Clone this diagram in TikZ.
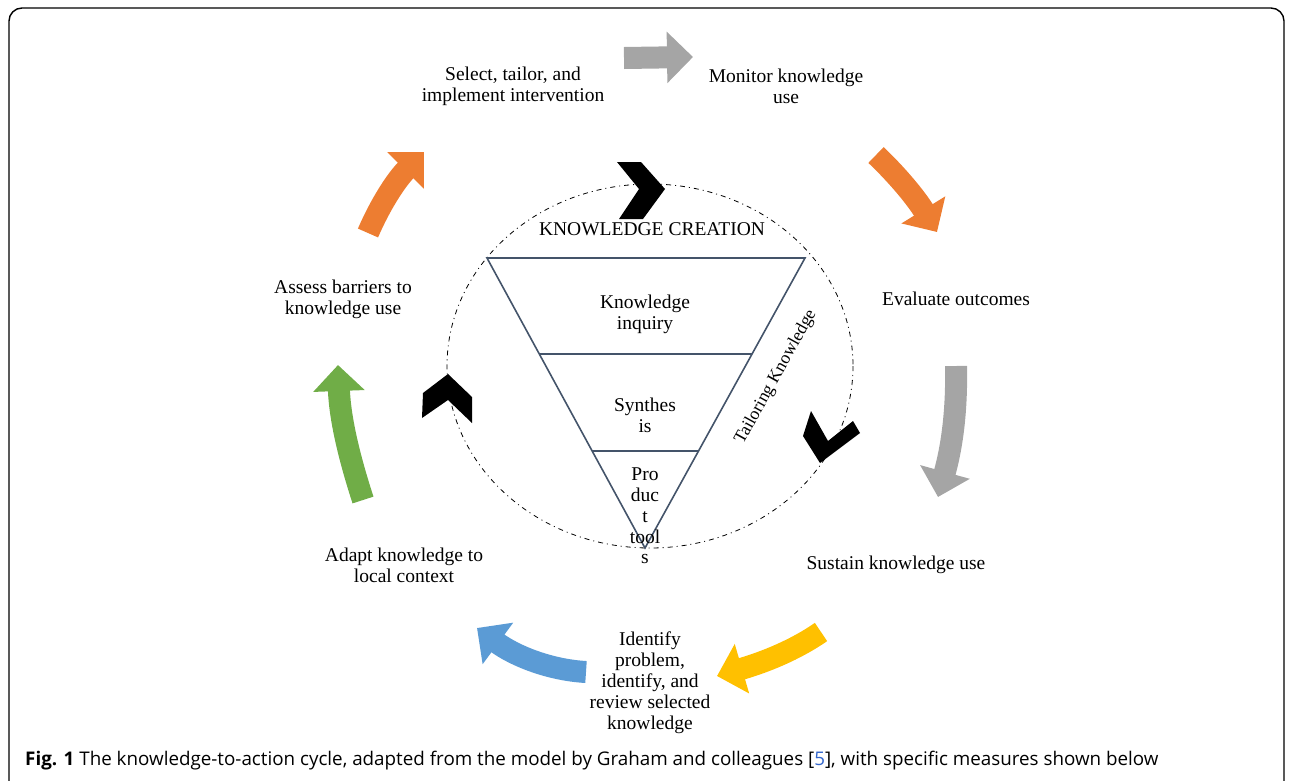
\documentclass[tikz,border=0pt]{standalone}
\usepackage{fontspec}
\setmainfont{Liberation Serif}
\newfontfamily\capfont{Open Sans}
\usetikzlibrary{arrows.meta}
\definecolor{korange}{HTML}{ED7D31}
\definecolor{kgray}{HTML}{A5A5A5}
\definecolor{kyellow}{HTML}{FFC000}
\definecolor{kblue}{HTML}{5B9BD5}
\definecolor{kgreen}{HTML}{70AD47}
\definecolor{kslate}{HTML}{44546A}
\definecolor{klink}{HTML}{3366CC}
\tikzset{
  lbl/.style={align=center, font=\fontsize{19.5}{21}\selectfont, inner sep=0pt},
  blockarrow/.style={line width=22pt, -{Triangle[length=26pt,width=50pt]}},
  tri/.style={draw=kslate, line width=1.6pt},
  chev/.style={fill=black, draw=none},
}
\begin{document}
\begin{tikzpicture}[x=1pt,y=-1pt]
\useasboundingbox (0,0) rectangle (1292,780);
% frame
\begin{scope}
\clip (0,0) rectangle (1292,780);
\draw[line width=1.4pt, rounded corners=13pt] (9,8) rectangle (1284,800);
\end{scope}
% dash-dot cycle
\draw[line width=0.8pt, dash pattern=on 5pt off 4pt on 1pt off 4pt] (650,366) ellipse [x radius=203, y radius=182];
% triangle
\coordinate (tl) at (487,258);
\coordinate (tr) at (805,258);
\coordinate (ap) at (645,548);
\draw[tri] (tl) -- (tr) -- (ap) -- cycle;
\draw[tri] (539,354) -- (752,354);
\draw[tri] (592,451) -- (698,451);
% chevrons
\fill[chev] (617,162) -- (641,162) -- (665,189) -- (643,219) -- (619,219) -- (639,189) -- cycle;
\fill[chev] (448,374) -- (472,397) -- (472,423) -- (448,400) -- (422,418) -- (423,393) -- cycle;
\fill[chev] (811,411) -- (828,441) -- (853,421) -- (860,433) -- (820,463) -- (803,436) -- cycle;
% inner texts
\node[lbl] (kc) at (652,229) {KNOWLEDGE CREATION};
\node[lbl] (ki) at (645,314) {Knowledge\\inquiry};
\node[lbl] (sy) at (645,415) {Synthes\\is};
\node[lbl, font=\fontsize{19.5}{20.8}\selectfont] (pt) at (645,516) {Pro\\duc\\t\\tool\\s};
\node[lbl, rotate=61, font=\fontsize{17.7}{20}\selectfont] (tk) at (776,377) {Tailoring Knowledge};
% outer labels
\node[lbl] (s1) at (513,86) {Select, tailor, and\\implement intervention};
\node[lbl] (s2) at (786,86) {Monitor knowledge\\use};
\node[lbl] (s3) at (956,299) {Evaluate outcomes};
\node[lbl] (s4) at (896,565) {Sustain knowledge use};
\node[lbl] (s5) at (650,683) {Identify\\problem,\\identify, and\\review selected\\knowledge};
\node[lbl] (s6) at (404,565) {Adapt knowledge to\\local context};
\node[lbl] (s7) at (343,299) {Assess barriers to\\knowledge use};
% block arrows
\draw[blockarrow, kgray] (624,58) -- (693,57);
\draw[blockarrow, korange] (876,155) .. controls (898,176) and (916,198) .. (937,232);
\draw[blockarrow, kgray] (956,366) .. controls (957,415) and (951,450) .. (938,497);
\draw[blockarrow, kyellow] (821,632) .. controls (795,650) and (765,662) .. (717,676);
\draw[blockarrow, kblue] (586,672) .. controls (550,670) and (515,656) .. (477,628);
\draw[blockarrow, kgreen] (363,500) .. controls (350,460) and (340,420) .. (338,365);
\draw[blockarrow, korange] (368,233) .. controls (380,205) and (396,180) .. (424,152);
% caption
\node[anchor=west, inner sep=0pt, font=\capfont\fontsize{18.8}{21}\selectfont] (cap) at (25,761)
  {\textbf{Fig. 1} The knowledge-to-action cycle, adapted from the model by Graham and colleagues [{\color{klink}5}], with specific measures shown below};
\end{tikzpicture}
\end{document}
